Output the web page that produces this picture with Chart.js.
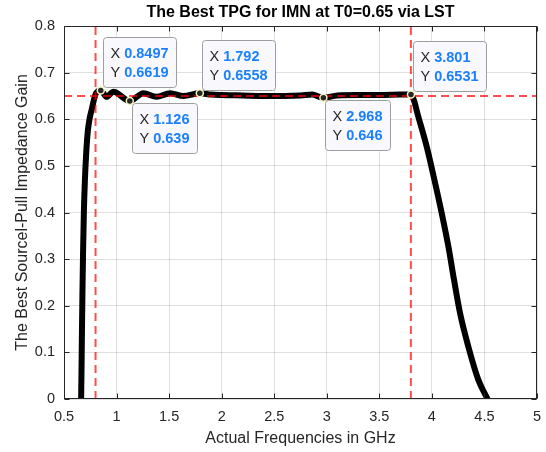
<!DOCTYPE html>
<html><head><meta charset="utf-8">
<script src="https://cdn.jsdelivr.net/npm/chart.js@4/dist/chart.umd.min.js"></script>
<style>html,body{margin:0;padding:0;background:#fff;}#wrap{width:546px;height:452px;}</style>
</head><body><div id="wrap"><canvas id="c" width="546" height="452"></canvas></div>
<script>
// ---- data ----
const freqGHz = [0.663,0.666,0.670,0.675,0.681,0.689,0.699,0.712,0.727,0.745,0.765,0.785,0.805,0.8497,
  0.906,0.969,1.126,1.255,1.380,1.510,1.635,1.792,1.900,2.000,2.200,2.400,2.600,2.750,2.860,2.968,
  3.100,3.300,3.500,3.700,3.801,3.830,3.862,3.951,4.024,4.094,4.157,4.211,4.268,4.347,4.442,4.530];
const gainTPG = [0.000,0.050,0.130,0.220,0.310,0.400,0.470,0.530,0.575,0.603,0.622,0.642,0.656,0.6619,
  0.648,0.659,0.639,0.656,0.648,0.656,0.650,0.6558,0.653,0.652,0.651,0.650,0.650,0.651,0.653,0.646,
  0.651,0.652,0.652,0.653,0.6531,0.640,0.613,0.541,0.470,0.398,0.327,0.255,0.184,0.112,0.041,0.000];
const tipX = [0.8497, 1.126, 1.792, 2.968, 3.801];
const tipY = [0.6619, 0.639, 0.6558, 0.646, 0.6531];
const tipSide = ['above','below','above','below','above'];
const refX = [0.8, 3.8];
const refY = [0.65];
const xTicks = [0.5,1,1.5,2,2.5,3,3.5,4,4.5,5];
const yTicks = [0,0.1,0.2,0.3,0.4,0.5,0.6,0.7,0.8];
const titleText = 'The Best TPG for IMN at T0=0.65 via LST';
const xLabel = 'Actual Frequencies in GHz';
const yLabel = 'The Best Sourcel-Pull Impedance Gain';

const FONT = '"Liberation Sans", Arial, Helvetica, sans-serif';
const TXT = '#262626';
const REF = 'rgba(255,0,0,0.7)';

const curve = freqGHz.map((f,i)=>({x:f,y:gainTPG[i]}));
const tips = tipX.map((f,i)=>({x:f,y:tipY[i]}));
const refDatasets = [];
refX.forEach(v=>refDatasets.push({type:'line',data:[{x:v,y:yTicks[0]},{x:v,y:yTicks[yTicks.length-1]}],
  borderColor:REF,borderWidth:2,borderDash:[8,5],pointRadius:0,order:2,clip:false}));
refY.forEach(v=>refDatasets.push({type:'line',data:[{x:xTicks[0],y:v},{x:xTicks[xTicks.length-1],y:v}],
  borderColor:REF,borderWidth:2,borderDash:[8,5],pointRadius:0,order:2,clip:false}));

const framePlugin = {
  id:'frame',
  afterDatasetsDraw(chart){
    const {ctx, chartArea:a, scales:{x,y}} = chart;
    ctx.save();
    ctx.strokeStyle = TXT; ctx.lineWidth = 1;
    const L=Math.round(a.left)+0.5, R=Math.round(a.right)-0.5, T=Math.round(a.top)+0.5, B=Math.round(a.bottom)-0.5;
    ctx.strokeRect(L,T,R-L,B-T);
    ctx.beginPath();
    xTicks.forEach(v=>{const p=Math.round(x.getPixelForValue(v))+0.5; ctx.moveTo(p,B); ctx.lineTo(p,B-5); ctx.moveTo(p,T); ctx.lineTo(p,T+5);});
    yTicks.forEach(v=>{const p=Math.round(y.getPixelForValue(v))+0.5; ctx.moveTo(L,p); ctx.lineTo(L+5,p); ctx.moveTo(R,p); ctx.lineTo(R-5,p);});
    ctx.stroke();
    ctx.restore();
  },
  afterDraw(chart){
    const {ctx, chartArea:a, scales:{x,y}} = chart;
    ctx.save();
    // title
    ctx.font = 'bold 16px '+FONT; ctx.fillStyle = '#000'; ctx.textAlign='center'; ctx.textBaseline='middle';
    ctx.fillText(titleText,(a.left+a.right)/2,13);
    // datatips
    ctx.textAlign='left';
    tipX.forEach((tx,i)=>{
      const px = x.getPixelForValue(tx), py = y.getPixelForValue(tipY[i]);
      const rows = [['X ',String(tx)],['Y ',String(tipY[i])]];
      let w = 0;
      rows.forEach(r=>{ctx.font='14.5px '+FONT; const a1=ctx.measureText(r[0]).width; ctx.font='bold 14.5px '+FONT; const b1=ctx.measureText(r[1]).width; w=Math.max(w,a1+b1);});
      const bw = Math.round(w+15), bh = 50;
      const bx = Math.round(px+2)+0.5;
      const by = (tipSide[i]==='above' ? Math.round(py-3-bh) : Math.round(py+2))+0.5;
      ctx.beginPath();
      if (ctx.roundRect) ctx.roundRect(bx,by,bw,bh,3); else ctx.rect(bx,by,bw,bh);
      ctx.fillStyle='#f8f8fd'; ctx.fill();
      ctx.strokeStyle='#9e9e9e'; ctx.lineWidth=1; ctx.stroke();
      rows.forEach((r,j)=>{
        const ty = by+16.6+j*18.4;
        ctx.font='14.5px '+FONT; ctx.fillStyle=TXT; ctx.fillText(r[0],bx+7,ty);
        const a1 = ctx.measureText(r[0]).width;
        ctx.font='bold 14.5px '+FONT; ctx.fillStyle='#1a80ff'; ctx.fillText(r[1],bx+7+a1,ty);
      });
    });
    ctx.restore();
  }
};

new Chart(document.getElementById('c'),{
  type:'line',
  data:{datasets:[
    {type:'scatter',data:tips,pointRadius:3.5,pointBackgroundColor:'#262626',pointBorderColor:'#f3f3c4',pointBorderWidth:1.5,order:1,clip:false},
    ...refDatasets,
    {type:'line',data:curve,borderColor:'#000',borderWidth:6,pointRadius:0,cubicInterpolationMode:'monotone',borderJoinStyle:'round',order:3,clip:0}
  ]},
  options:{
    responsive:false, animation:false, devicePixelRatio:1,
    layout:{padding:{top:26,right:9,left:0,bottom:0}},
    plugins:{legend:{display:false},tooltip:{enabled:false},title:{display:false}},
    scales:{
      x:{type:'linear',min:xTicks[0],max:xTicks[xTicks.length-1],
        afterBuildTicks:s=>{s.ticks=xTicks.map(v=>({value:v}));},
        afterFit:s=>{s.height=53;s.paddingRight=0;s.paddingLeft=0;},
        grid:{color:'rgba(38,38,38,0.15)',drawTicks:false},border:{display:false},
        ticks:{color:TXT,font:{family:FONT,size:14.5},padding:9,maxRotation:0,autoSkip:false,callback:v=>String(v)},
        title:{display:true,text:xLabel,color:TXT,font:{family:FONT,size:16},padding:{top:0,bottom:3.4}}},
      y:{type:'linear',min:yTicks[0],max:yTicks[yTicks.length-1],
        afterBuildTicks:s=>{s.ticks=yTicks.map(v=>({value:v}));},
        afterFit:s=>{s.width=64;s.paddingTop=0;s.paddingBottom=0;},
        grid:{color:'rgba(38,38,38,0.15)',drawTicks:false},border:{display:false},
        ticks:{color:TXT,font:{family:FONT,size:14.5},padding:9,autoSkip:false,callback:v=>String(v)},
        title:{display:true,text:yLabel,color:TXT,font:{family:FONT,size:16},padding:{top:13.4,bottom:0}}}
    }
  },
  plugins:[framePlugin]
});
</script></body></html>
